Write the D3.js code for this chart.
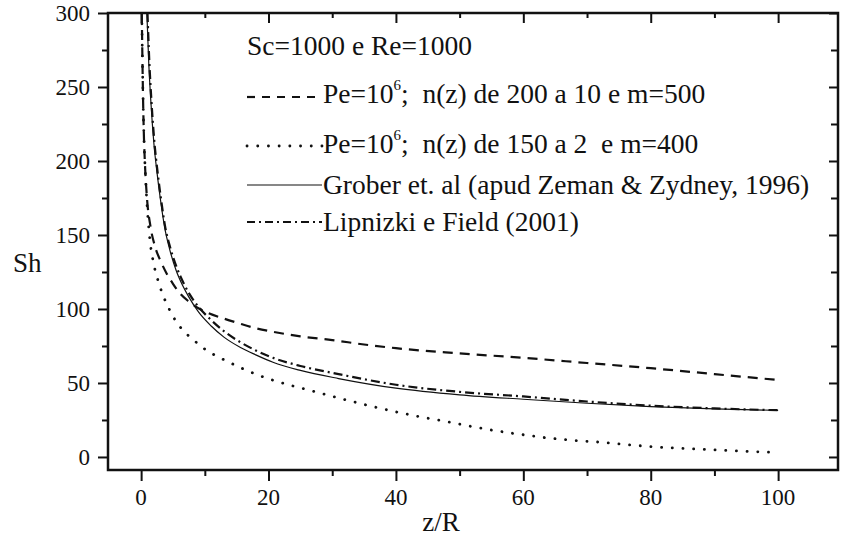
<!DOCTYPE html>
<html><head><meta charset="utf-8"><script src="https://cdn.jsdelivr.net/npm/d3@7"></script>
<style>
  html body svg#chart text, html body svg#chart tspan { font-family: "Liberation Serif", "Times New Roman", serif !important; }
</style>
</head>
<body style="margin:0">
<svg id="chart" width="841" height="543"></svg>
<script>
// ---------------- data ----------------
const xMajorTicks = [0, 20, 40, 60, 80, 100];
const xMinorTicks = [10, 30, 50, 70, 90];
const yMajorTicks = [0, 50, 100, 150, 200, 250, 300];
const yMinorTicks = [25, 75, 125, 175, 225, 275];

const xTitle = "z/R";
const yTitle = "Sh";
const legendHeader = "Sc=1000 e Re=1000";

// Pe=10^6; n(z) de 200 a 10 e m=500  (dashed)
const seriesDashed = [
  [0.1, 300], [0.2, 270], [0.3, 243], [0.45, 215], [0.6, 198], [0.9, 176],
  [1.5, 155], [2.2, 142], [3.1, 132], [4.0, 124], [5.0, 117], [6.2, 110],
  [7.5, 105], [9, 100.5], [10.4, 97.5], [13, 93.5], [15.6, 90], [18, 87],
  [20.8, 84.5], [25, 81.5], [30, 79], [35, 76], [40, 73.5], [50, 70],
  [60, 67], [70, 63.5], [80, 60], [90, 56], [100, 52]
];
// Pe=10^6; n(z) de 150 a 2 e m=400  (dotted)
const seriesDotted = [
  [0.1, 300], [0.2, 270], [0.3, 243], [0.45, 215], [0.6, 198], [0.85, 176],
  [1.3, 150], [2.0, 130], [2.6, 120], [3.2, 112], [4.4, 100], [5.5, 91.5],
  [6.7, 85], [8.3, 78.8], [9.8, 73.5], [11.6, 68.7], [13.4, 64.9], [16.5, 58.6],
  [19.9, 53], [23.3, 48.6], [26.7, 44.8], [30, 41], [35, 35.5], [40, 30.5],
  [44, 27], [47.8, 24], [52, 20.5], [56, 17.5], [60, 15], [64, 12.8],
  [68, 11.2], [72, 10], [76, 8.5], [80, 7], [85, 5.8], [90, 4.8], [95, 3.8], [100, 3]
];
// Grober et. al (solid)
const seriesGrober = [
  [0.9, 300], [1.2, 266], [1.5, 242], [2.0, 212], [2.5, 192], [3.0, 175],
  [3.7, 155], [4.5, 140], [5.5, 126], [6.5, 116], [7.5, 108], [9.0, 98],
  [11, 88.5], [13, 81], [15.6, 74], [18, 69], [20.7, 64], [25, 58.5],
  [31, 53], [40, 46.5], [50, 42], [60, 39], [70, 36.3], [80, 34],
  [90, 32.5], [100, 31.5]
];
// Lipnizki e Field (2001) (dash-dot)
const seriesLipnizki = [
  [1.0, 300], [1.3, 266], [1.6, 242], [2.1, 212], [2.6, 192], [3.1, 175],
  [3.8, 155], [4.6, 141], [5.6, 128], [6.6, 118], [7.6, 110], [9.0, 101.5],
  [11, 92.5], [13, 85], [15.6, 77.5], [18, 72], [20.7, 67], [25, 61.5],
  [31, 56], [40, 48.8], [50, 44], [60, 40.9], [70, 37.5], [80, 34.7],
  [90, 32.8], [100, 31.6]
];

// ---------------- layout ----------------
const svg = d3.select("#chart");
const L = 108, R = 838, T = 13, B = 470;
const x = d3.scaleLinear().domain([-5.2, 109.4]).range([L, R]);
const y = d3.scaleLinear().domain([-8.8, 300]).range([B, T]);

svg.append("defs").append("clipPath").attr("id", "plotclip")
  .append("rect").attr("x", L).attr("y", T).attr("width", R - L).attr("height", B - T);

function addText(parent, tx, ty, size, str, anchor) {
  const t = parent.append("text").attr("x", tx).attr("y", ty)
    .attr("font-size", size).attr("fill", "#111")
    .style("font-family", '"Liberation Serif"', "important");
  if (anchor) t.attr("text-anchor", anchor);
  if (str !== null) t.text(str);
  return t;
}

const tickFont = 23;
function axisLines(g) {
  g.attr("font-family", null);
  g.select(".domain").remove();
  g.selectAll(".tick text").remove();
  g.selectAll(".tick line").attr("stroke", "#111").attr("stroke-width", 2);
}

// bottom axis
svg.append("g").attr("transform", `translate(0,${B})`)
  .call(d3.axisBottom(x).tickValues(xMajorTicks).tickSize(11)).call(axisLines);
svg.append("g").attr("transform", `translate(0,${B})`)
  .call(d3.axisBottom(x).tickValues(xMinorTicks).tickSize(6)).call(axisLines);
xMajorTicks.forEach(v => addText(svg, x(v), 505, tickFont, String(v), "middle"));
// top axis (inward)
svg.append("g").attr("transform", `translate(0,${T})`)
  .call(d3.axisTop(x).tickValues(xMajorTicks).tickSize(-10)).call(axisLines);
svg.append("g").attr("transform", `translate(0,${T})`)
  .call(d3.axisTop(x).tickValues(xMinorTicks).tickSize(-5)).call(axisLines);
// left axis
svg.append("g").attr("transform", `translate(${L},0)`)
  .call(d3.axisLeft(y).tickValues(yMajorTicks).tickSize(10)).call(axisLines);
svg.append("g").attr("transform", `translate(${L},0)`)
  .call(d3.axisLeft(y).tickValues(yMinorTicks).tickSize(6)).call(axisLines);
yMajorTicks.forEach(v => addText(svg, 90, y(v) + 8, tickFont, String(v), "end"));
// right axis (inward)
svg.append("g").attr("transform", `translate(${R},0)`)
  .call(d3.axisRight(y).tickValues(yMajorTicks).tickSize(-9)).call(axisLines);
svg.append("g").attr("transform", `translate(${R},0)`)
  .call(d3.axisRight(y).tickValues(yMinorTicks).tickSize(-7)).call(axisLines);

// frame
svg.append("rect").attr("x", L).attr("y", T).attr("width", R - L).attr("height", B - T)
  .attr("fill", "none").attr("stroke", "#111").attr("stroke-width", 2.5);

// axis titles
addText(svg, 13, 272, 27, yTitle);
addText(svg, 441, 531, 27, xTitle, "middle");

// ---------------- curves ----------------
const line = d3.line().x(d => x(d[0])).y(d => y(d[1])).curve(d3.curveMonotoneX);
const plot = svg.append("g").attr("clip-path", "url(#plotclip)");

const styles = {
  dashed:   { w: 2.2, dash: "10,7", cap: "butt" },
  dotted:   { w: 2.8, dash: "0.1,10.6", cap: "round" },
  solid:    { w: 1.2, dash: null, cap: "butt" },
  dashdot:  { w: 2.2, dash: "9,4,2,4", cap: "butt" }
};
const curves = [
  { data: seriesDashed, s: styles.dashed },
  { data: seriesDotted, s: styles.dotted },
  { data: seriesGrober, s: styles.solid },
  { data: seriesLipnizki, s: styles.dashdot }
];
curves.forEach(c => {
  plot.append("path").datum(c.data).attr("d", line)
    .attr("fill", "none").attr("stroke", "#111")
    .attr("stroke-width", c.s.w).attr("stroke-linecap", c.s.cap)
    .attr("stroke-dasharray", c.s.dash);
});

// ---------------- legend ----------------
const legFont = 27.5;
addText(svg, 247, 55, legFont, legendHeader);

const legendRows = [
  { y: 103, ly: 97, dash: "8,7", w: 2.2, cap: "butt", parts: ["Pe=10", "6", ";\u00a0\u00a0n(z) de 200 a 10 e m=500"] },
  { y: 153, ly: 146, dash: "0.1,10.6", w: 2.8, cap: "round", parts: ["Pe=10", "6", ";\u00a0\u00a0n(z) de 150 a 2\u00a0\u00a0e m=400"] },
  { y: 194, ly: 185, dash: null, w: 1.2, cap: "butt", parts: ["Grober et. al (apud Zeman & Zydney, 1996)"] },
  { y: 231, ly: 222, dash: "8,4,2,4", w: 2.2, cap: "butt", parts: ["Lipnizki e Field (2001)"] }
];
legendRows.forEach(r => {
  svg.append("line").attr("x1", 247).attr("x2", 322).attr("y1", r.ly).attr("y2", r.ly)
    .attr("stroke", "#111").attr("stroke-width", r.w).attr("stroke-linecap", r.cap)
    .attr("stroke-dasharray", r.dash);
  if (r.parts.length === 3) {
    const t = addText(svg, 323, r.y, legFont, null);
    t.append("tspan").text(r.parts[0]);
    t.append("tspan").attr("font-size", 15).attr("dy", -13).text(r.parts[1]);
    t.append("tspan").attr("dy", 13).text(r.parts[2]);
  } else {
    addText(svg, 323, r.y, legFont, r.parts[0]);
  }
});
</script>
</body>
</html>
